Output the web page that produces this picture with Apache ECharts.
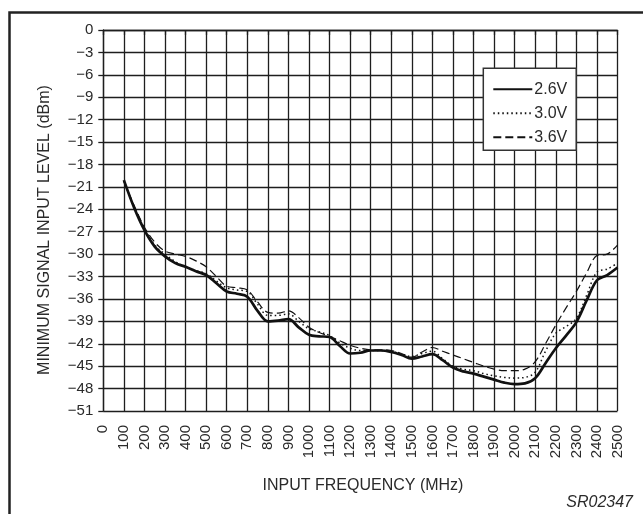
<!DOCTYPE html>
<html>
<head>
<meta charset="utf-8">
<script src="https://cdn.jsdelivr.net/npm/echarts@6/dist/echarts.min.js"></script>
<style>html,body{margin:0;padding:0;background:#fff}#c{width:643px;height:514px}</style>
</head>
<body>
<div id="c"></div>
<script>
const freqs = [100,150,200,250,300,350,400,450,500,550,600,650,700,750,800,850,900,950,1000,1050,1100,1150,1200,1250,1300,1350,1400,1450,1500,1550,1600,1650,1700,1750,1800,1850,1900,1950,2000,2050,2100,2150,2200,2250,2300,2350,2400,2450,2500];
const v26 = [-20.1,-23.8,-26.8,-29.0,-30.3,-31.2,-31.7,-32.3,-32.8,-33.9,-35.0,-35.3,-35.7,-37.6,-39.0,-38.9,-38.7,-39.8,-40.8,-41.0,-41.1,-42.3,-43.3,-43.2,-42.9,-42.9,-43.1,-43.5,-44.0,-43.7,-43.4,-44.2,-45.2,-45.7,-46.0,-46.4,-46.8,-47.2,-47.4,-47.3,-46.6,-44.6,-42.6,-40.9,-39.1,-36.2,-33.5,-32.8,-31.8];
const v30 = [-20.2,-23.7,-26.6,-28.8,-30.0,-31.0,-31.7,-32.2,-32.6,-33.6,-34.5,-34.8,-35.0,-36.7,-38.2,-38.2,-38.0,-39.0,-40.0,-40.4,-40.9,-41.9,-42.6,-42.9,-42.9,-42.9,-43.0,-43.4,-43.7,-43.3,-43.0,-44.0,-45.0,-45.4,-45.6,-46.0,-46.3,-46.5,-46.6,-46.5,-45.8,-43.0,-40.6,-39.7,-38.6,-35.5,-32.4,-32.0,-31.2];
const v36 = [-20.2,-23.5,-26.4,-28.4,-29.6,-30.0,-30.3,-30.9,-31.7,-33.0,-34.3,-34.5,-34.8,-36.4,-37.8,-37.9,-37.6,-38.5,-39.8,-40.5,-41.0,-41.6,-42.2,-42.6,-42.8,-42.8,-42.9,-43.3,-43.8,-43.1,-42.5,-43.0,-43.5,-44.0,-44.5,-45.0,-45.4,-45.6,-45.6,-45.4,-44.4,-42.0,-39.5,-37.2,-35.0,-32.5,-30.2,-30.0,-28.8];
const seriesNames = ['2.6V','3.0V','3.6V'];
const xTitle = 'INPUT FREQUENCY (MHz)';
const yTitle = 'MINIMUM SIGNAL INPUT LEVEL (dBm)';
const figId = 'SR02347';

const FONT = '"Liberation Sans", Arial, Helvetica, sans-serif';
const LINE = '#1e1e1e';
const TXT = '#2a2a2a';
const pair = vals => freqs.map((f,i)=>[f, vals[i]]);

const chart = echarts.init(document.getElementById('c'), null, {renderer:'canvas'});
chart.setOption({
  animation: false,
  backgroundColor: '#fff',
  textStyle: {fontFamily: FONT},
  grid: {left: 103.3, right: 25.5, top: 30, bottom: 103, containLabel: false},
  xAxis: {
    type: 'value', min: 0, max: 2500, interval: 100,
    axisLine: {show: true, lineStyle: {color: LINE, width: 1.3}},
    axisTick: {show: true, inside: false, length: 5, lineStyle: {color: LINE, width: 1.3}},
    splitLine: {show: true, lineStyle: {color: LINE, width: 1.3}},
    axisLabel: {rotate: 90, margin: 14, fontSize: 15, color: TXT, fontFamily: FONT,
      formatter: v => String(v)}
  },
  yAxis: {
    type: 'value', min: -51, max: 0, interval: 3,
    axisLine: {show: true, lineStyle: {color: LINE, width: 1.3}},
    axisTick: {show: true, inside: false, length: 5, lineStyle: {color: LINE, width: 1.3}},
    splitLine: {show: true, lineStyle: {color: LINE, width: 1.3}},
    axisLabel: {margin: 10, fontSize: 15, color: TXT, fontFamily: FONT,
      formatter: v => v === 0 ? '0' : '\u2212' + Math.abs(v)}
  },
  legend: {
    show: true, orient: 'vertical', left: 483.3, top: 68.3,
    data: seriesNames,
    backgroundColor: '#fff',
    borderColor: '#333', borderWidth: 1.5,
    padding: [13, 9, 5, 9],
    itemWidth: 39, itemHeight: 14, itemGap: 8,
    itemStyle: {color: 'transparent', borderWidth: 0, opacity: 0},
    textStyle: {fontSize: 16, color: TXT, fontFamily: FONT, padding: [0,0,0,-3]},
    selectedMode: false
  },
  series: [
    {name: seriesNames[0], type: 'line', data: pair(v26), smooth: 0.35, symbol: 'none',
     itemStyle: {color: '#111'},
     lineStyle: {color: '#111', width: 2.7, type: 'solid'}, z: 5},
    {name: seriesNames[1], type: 'line', data: pair(v30), smooth: 0.35, symbol: 'none',
     itemStyle: {color: '#111'},
     lineStyle: {color: '#111', width: 1.5, type: [1.5, 3]}, z: 4},
    {name: seriesNames[2], type: 'line', data: pair(v36), smooth: 0.35, symbol: 'none',
     itemStyle: {color: '#111'},
     lineStyle: {color: '#111', width: 1.2, type: [8, 4]}, z: 3}
  ],
  graphic: [
    {type: 'rect', left: 7, top: 10, z: 100, silent: true,
     shape: {x: 0, y: 0, width: 645, height: 520},
     style: {fill: 'none', stroke: '#222', lineWidth: 2.5}},
    {type: 'text', x: 363, y: 486, z: 100,
     style: {text: xTitle, fontSize: 16, fill: TXT, fontFamily: FONT, align: 'center', verticalAlign: 'middle'}},
    {type: 'text', x: 45, y: 230, rotation: Math.PI/2, z: 100,
     style: {text: yTitle, fontSize: 16, fill: TXT, fontFamily: FONT, align: 'center', verticalAlign: 'middle'}},
    {type: 'text', x: 633, y: 503, z: 100,
     style: {text: figId, fontSize: 16, fontStyle: 'italic', fill: TXT, fontFamily: FONT, align: 'right', verticalAlign: 'middle'}}
  ]
});
</script>
</body>
</html>
